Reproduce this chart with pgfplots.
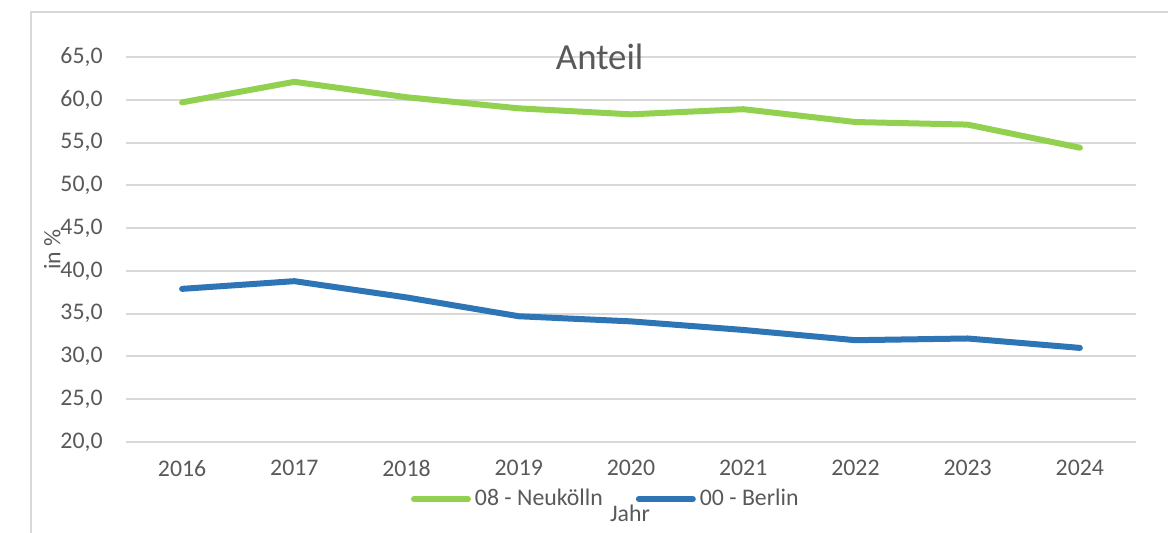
\documentclass[border=0pt]{standalone}
\usepackage{fontspec}
\setmainfont{Carlito}
\usepackage{pgfplots}
\pgfplotsset{compat=1.18}
\definecolor{txtgray}{HTML}{595959}
\definecolor{gridgray}{HTML}{D9D9D9}
\definecolor{nkgreen}{HTML}{92D050}
\definecolor{beblue}{HTML}{2E75B6}

\begin{document}
\begin{tikzpicture}
\begin{scope}
\clip (0,0) rectangle (584pt,266pt);
\draw[gridgray, line width=1pt] (15.5pt,-10pt) -- (15.5pt,260pt) -- (600pt,260pt);
\end{scope}
\begin{axis}[
  at={(63pt,45pt)}, anchor=south west,
  scale only axis,
  width=505pt, height=192.5pt,
  xmin=-0.5, xmax=8.5,
  ymin=20, ymax=65,
  xtick={0,...,8},
  xticklabels={2016,2017,2018,2019,2020,2021,2022,2023,2024},
  ytick={20,25,...,65},
  axis line style={draw=none},
  tick style={draw=none},
  ymajorgrids,
  grid style={gridgray, line width=1pt},
  font=\fontsize{11.9pt}{14pt}\selectfont,
  tick label style={txtgray},
  /pgf/number format/assume math mode=true,
  yticklabel={\pgfmathprintnumber[fixed, fixed zerofill, precision=1, use comma]{\tick}},
  yticklabel style={anchor=east, inner sep=0pt, xshift=-11.5pt},
  xticklabel style={anchor=north, inner sep=0pt, yshift=-9pt},
  title={Anteil},
  title style={at={(rel axis cs:0.469,1)}, anchor=center, yshift=-6pt, font=\fontsize{18.4pt}{22pt}\selectfont, text=txtgray},
  ylabel={in \%},
  ylabel style={at={(rel axis cs:-0.073,0.5)}, anchor=center, text=txtgray},
  xlabel={Jahr},
  xlabel style={at={(rel axis cs:0.499,-0.184)}, anchor=center, text=txtgray},
  legend columns=2,
  legend style={draw=none, fill=none, at={(rel axis cs:0.476,-0.148)}, anchor=center,
    text=txtgray, inner sep=0pt,
    /tikz/every even column/.append style={column sep=14.5pt}},
  legend cell align=left,
  legend image code/.code={\draw[#1, line width=3pt, line cap=round] (0pt,0pt) -- (27pt,0pt);},
  clip=false,
]
\addplot[nkgreen, line width=3pt, line join=round, line cap=round] coordinates {
  (0,59.7) (1,62.1) (2,60.3) (3,59.0) (4,58.3) (5,58.9) (6,57.4) (7,57.1) (8,54.4)
};
\addlegendentry{08 - Neukölln}
\addplot[beblue, line width=3pt, line join=round, line cap=round] coordinates {
  (0,37.9) (1,38.8) (2,36.9) (3,34.7) (4,34.1) (5,33.1) (6,31.9) (7,32.1) (8,31.0)
};
\addlegendentry{00 - Berlin}
\end{axis}
\pgfresetboundingbox
\useasboundingbox (0,0) rectangle (584pt,266pt);
\end{tikzpicture}
\end{document}
